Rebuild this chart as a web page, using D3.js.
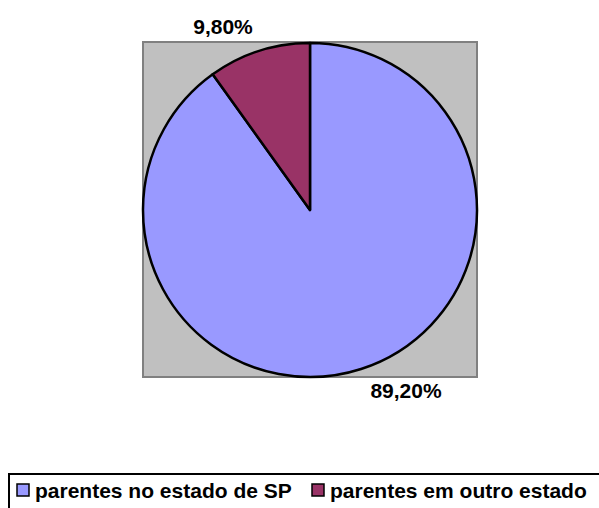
<!DOCTYPE html>
<html>
<head>
<meta charset="utf-8">
<script src="https://cdn.jsdelivr.net/npm/d3@7"></script>
<style>
  body { margin: 0; background: #fff; }
  svg { display: block; font-family: "Liberation Sans", Arial, sans-serif; }
</style>
</head>
<body>
<svg id="chart" width="599" height="508"></svg>
<script>
// data
const categories = ['parentes no estado de SP', 'parentes em outro estado']
const values = [89.2, 9.8]
const labels = ['89,20%', '9,80%']
const colors = ['#9999ff', '#993366']

const svg = d3.select('#chart')
const cx = 310, cy = 210, r = 167

// plot area background
svg.append('rect')
  .attr('x', 143).attr('y', 42)
  .attr('width', 334).attr('height', 335)
  .style('fill', '#c0c0c0')
  .style('stroke', '#808080')
  .style('stroke-width', 2)

const pie = d3.pie().sort(null).value(d => d)
// small slice sits counter-clockwise of 12 o'clock
const arcs = pie.startAngle(0).endAngle(2 * Math.PI)(values)

const arc = d3.arc().innerRadius(0).outerRadius(r)

const g = svg.append('g').attr('transform', `translate(${cx},${cy})`)

g.selectAll('path')
  .data(arcs)
  .enter()
  .append('path')
  .attr('d', arc)
  .style('fill', (d, i) => colors[i])
  .style('stroke', '#000')
  .style('stroke-width', 2.5)
  .style('stroke-linejoin', 'round')

// data labels
const labelPos = [[406, 398], [223, 34]]
svg.selectAll('text.lbl')
  .data(labels)
  .enter()
  .append('text')
  .attr('class', 'lbl')
  .attr('x', (d, i) => labelPos[i][0])
  .attr('y', (d, i) => labelPos[i][1])
  .attr('text-anchor', 'middle')
  .style('font-size', '21px')
  .style('font-weight', 'bold')
  .text(d => d)

// legend
svg.append('rect')
  .attr('x', 9).attr('y', 474)
  .attr('width', 600).attr('height', 40)
  .style('fill', '#fff')
  .style('stroke', '#000')
  .style('stroke-width', 2)

const legendX = [17, 312]
const lg = svg.selectAll('g.leg')
  .data(categories)
  .enter()
  .append('g')
  .attr('class', 'leg')
  .attr('transform', (d, i) => `translate(${legendX[i]},484)`)

lg.append('rect')
  .attr('width', 12).attr('height', 12)
  .style('fill', (d, i) => colors[i])
  .style('stroke', '#000')
  .style('stroke-width', 1.5)

lg.append('text')
  .attr('x', 18).attr('y', 14)
  .style('font-size', '21px')
  .style('font-weight', 'bold')
  .text(d => d)
</script>
</body>
</html>
